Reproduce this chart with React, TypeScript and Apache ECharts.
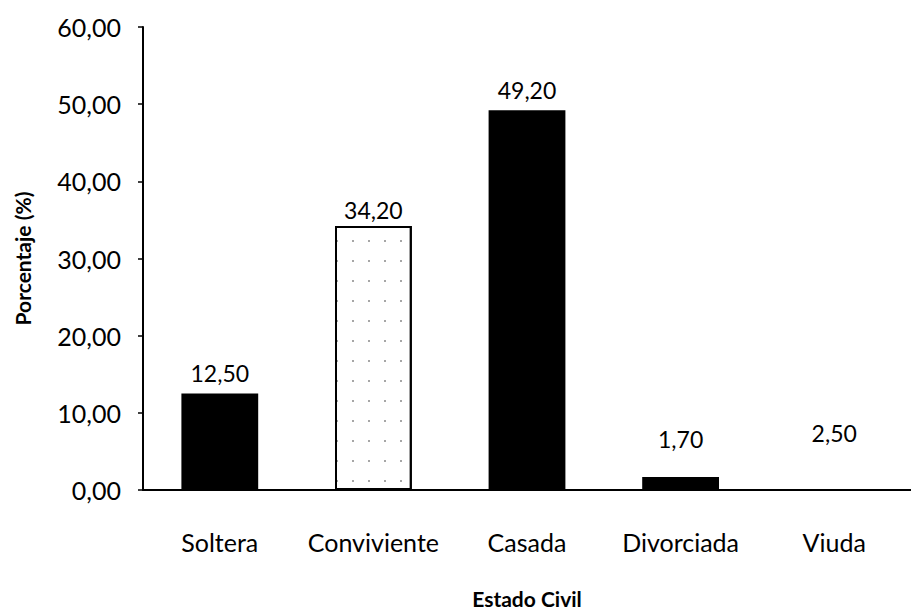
import React, { useEffect, useRef } from "react";
import * as echarts from "echarts";

const categories = ["Soltera", "Conviviente", "Casada", "Divorciada", "Viuda"];
const values = [12.5, 34.2, 49.2, 1.7, 2.5];
const yTicks = [0, 10, 20, 30, 40, 50, 60];

const FONT = "Lato";
const fmt = (v: number) => v.toFixed(2).replace(".", ",");

export default function App() {
  const ref = useRef<HTMLDivElement>(null);
  useEffect(() => {
    if (!ref.current) return;
    const chart = echarts.init(ref.current, undefined, { renderer: "svg" });
    const fills = ["#000", "#fff", "#000", "#000", "transparent"];
    const labelDist = [9, 5, 9, 26, 26];
    chart.setOption({
      animation: false,
      backgroundColor: "#fff",
      grid: { left: 143, right: -7, top: 27, bottom: 122, containLabel: false },
      xAxis: {
        type: "category",
        data: categories,
        name: "Estado Civil",
        nameLocation: "middle",
        nameGap: 98,
        nameTextStyle: { fontFamily: FONT, fontSize: 21, fontWeight: "bold", color: "#000" },
        axisLine: { lineStyle: { color: "#000", width: 2 } },
        axisTick: { show: false },
        axisLabel: { fontFamily: FONT, fontSize: 25, color: "#000", margin: 39, interval: 0 },
      },
      yAxis: {
        type: "value",
        min: yTicks[0],
        max: yTicks[yTicks.length - 1],
        interval: 10,
        name: "Porcentaje (%)",
        nameLocation: "middle",
        nameGap: 110,
        nameTextStyle: { fontFamily: FONT, fontSize: 21, fontWeight: "bold", color: "#000" },
        axisLine: { show: true, lineStyle: { color: "#000", width: 2 } },
        axisTick: { show: true, length: 5, lineStyle: { color: "#000", width: 1.5 } },
        splitLine: { show: false },
        axisLabel: {
          fontFamily: FONT,
          fontSize: 25,
          color: "#000",
          margin: 22,
          formatter: (v: number) => fmt(v),
        },
      },
      series: [
        {
          type: "bar",
          barWidth: "50%",
          data: values.map((v, i) => ({
            value: v,
            itemStyle: {
              color: fills[i],
              borderColor: i === 1 ? "#000" : undefined,
              borderWidth: i === 1 ? 2 : 0,
              decal:
                i === 1
                  ? {
                      symbol: "rect",
                      symbolSize: 1,
                      color: "rgba(0,0,0,0.35)",
                      dashArrayX: [[2, 14]],
                      dashArrayY: [2, 18],
                      rotation: 0,
                    }
                  : undefined,
            },
            label: { distance: labelDist[i] },
          })),
          label: {
            show: true,
            position: "top",
            fontFamily: FONT,
            fontSize: 23,
            color: "#000",
            formatter: (p: any) => fmt(p.value),
          },
        },
      ],
    });
    return () => chart.dispose();
  }, []);
  return <div ref={ref} style={{ width: 911, height: 614, position: "absolute", left: 0, top: 0 }} />;
}
